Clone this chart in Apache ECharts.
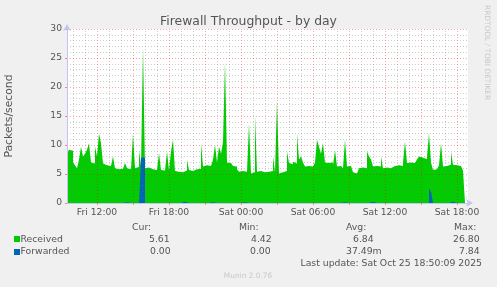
<!DOCTYPE html>
<html><head><meta charset="utf-8">
<script src="https://cdn.jsdelivr.net/npm/echarts@6/dist/echarts.min.js"></script>
<style>html,body{margin:0;padding:0;background:#f0f0f0;}#c{width:497px;height:287px;}</style>
</head><body><div id="c"></div>
<script>
// ---- data (10-minute samples starting Fri Oct 24 2025 09:30) ----
const startHour = 9.5;          // hours since Fri 00:00
const stepHours = 1 / 6;        // 10 minutes
const received = [
 9.0,8.5,9.2,9.0,7.0,6.5,6.0,7.5,9.7,8.0,
 8.5,9.2,10.3,7.0,6.8,9.7,8.0,12.0,10.3,6.8,
 6.5,6.3,6.4,6.2,8.0,6.0,5.8,6.0,5.9,6.1,
 6.9,6.0,5.8,6.0,12.0,6.0,6.2,9.1,6.3,26.8,
 6.0,6.1,5.9,5.8,5.6,5.7,5.8,8.6,5.7,5.6,
 5.8,8.9,5.6,8.9,10.9,5.5,5.4,5.6,5.3,5.5,
 5.6,7.4,5.7,5.5,5.6,5.8,5.5,5.9,10.3,6.3,
 6.5,6.2,6.4,6.3,7.5,10.0,7.0,9.7,8.5,10.5,
 24.3,7.0,6.9,6.9,6.4,6.3,5.8,5.4,5.5,5.3,
 5.4,5.5,13.7,5.1,5.3,15.1,5.4,5.5,5.4,5.3,
 5.6,5.4,5.2,5.5,8.0,5.3,17.7,5.1,5.3,5.2,
 5.5,8.9,6.9,6.7,7.1,6.8,12.0,7.5,8.0,7.0,
 6.3,6.4,6.2,6.3,6.1,7.0,10.9,9.7,8.5,10.3,
 7.0,6.9,6.6,7.0,6.5,9.1,6.3,6.4,6.2,6.0,
 10.9,6.3,6.4,6.2,5.3,5.1,5.2,6.0,6.1,5.9,
 6.0,8.9,8.0,7.5,6.3,6.4,6.2,6.3,8.0,6.0,
 6.1,5.9,6.0,6.3,6.4,6.2,6.5,6.3,6.4,7.0,
 10.6,6.9,7.0,6.8,6.9,7.0,7.5,8.0,7.8,8.0,
 7.6,8.0,12.0,7.0,5.7,5.8,6.0,6.5,10.3,6.3,
 6.4,6.5,6.6,8.9,6.6,6.5,6.7,6.4,6.2,5.61
];
const forwarded = [
 0,0,0,0,0,0,0,0,0,0,
 0,0,0,0,0,0,0,0.3,0,0,
 0,0,0,0,0,0,0,0.15,0,0,
 0.15,0,0,0,0,0.1,0,0,7.84,7.8,
 0,0,0,0,0,0,0,0,0,0,
 0,0,0,0,0,0,0,0,0.2,0.2,
 0,0,0,0,0,0,0,0,0,0,
 0.15,0,0.15,0.15,0,0,0.2,0,0,0,
 0,0,0,0,0,0,0.2,0,0,0.15,
 0,0,0,0,0,0,0,0,0,0,
 0,0,0,0,0,0,0,0,0,0,
 0,0,0,0,0,0,0,0,0,0,
 0,0,0,0,0,0,0,0,0,0,
 0,0,0,0,0,0,0,0,0,0.15,
 0,0,0,0,0,0,0,0,0,0,
 0,0,0,0.2,0.2,0,0,0,0,0,
 0,0,0,0,0,0,0,0,0,0,
 0,0,0,0,0,0,0,0,0,0,
 0,0,2.5,2.0,0,0,0,0,0,0,
 0.2,0,0,0.2,0,0,0.2,0,0,0
];
const seriesNames = ['Received', 'Forwarded'];
const xTickHours = [12, 18, 24, 30, 36, 42];
const xTickLabels = ['Fri 12:00', 'Fri 18:00', 'Sat 00:00', 'Sat 06:00', 'Sat 12:00', 'Sat 18:00'];
const yTicks = [0, 5, 10, 15, 20, 25, 30];
const statHeaders = ['Cur:', 'Min:', 'Avg:', 'Max:'];
const receivedStats = ['5.61', '4.42', '6.84', '26.80'];
const forwardedStats = ['0.00', '0.00', '37.49m', '7.84'];
const lastUpdate = 'Last update: Sat Oct 25 18:50:09 2025';

// ---- build ----
const xMin = startHour, xMax = startHour + 401 / 12;
const toPairs = arr => arr.map((v, i) => [startHour + i * stepHours, v]);
const majorV = [], minorV = [];
for (let h = Math.ceil(xMin); h < xMax; h++) (h % 3 === 0 ? majorV : minorV).push(h);
const vLines = [
  ...minorV.map(h => ({xAxis: h, lineStyle: {color: 'rgba(128,128,128,0.4)', type: [1, 2], width: 1}})),
  ...majorV.map(h => ({xAxis: h, lineStyle: {color: 'rgba(235,0,0,0.35)', type: [1, 2], width: 1}}))
];
const txt = '#555';
const F = 'DejaVu Sans';
const chart = echarts.init(document.getElementById('c'), null, {renderer: 'canvas'});
const graphic = [
  {type: 'text', x: 487, y: 5, rotation: -Math.PI / 2,
   style: {text: 'RRDTOOL / TOBI OETIKER', fill: '#c8c8c8', font: '7.4px ' + F, textAlign: 'left', textVerticalAlign: 'middle'}},
  {type: 'rect', shape: {x: 14, y: 236, width: 6, height: 6}, style: {fill: '#00CC00'}},
  {type: 'rect', shape: {x: 14, y: 249, width: 6, height: 6}, style: {fill: '#0066B3'}},
  {type: 'text', x: 20.5, y: 239.5, style: {text: seriesNames[0], fill: txt, font: '9.3px ' + F, textVerticalAlign: 'middle'}},
  {type: 'text', x: 20.5, y: 252, style: {text: seriesNames[1], fill: txt, font: '9.3px ' + F, textVerticalAlign: 'middle'}},
  {type: 'text', x: 482, y: 263.5, style: {text: lastUpdate, fill: txt, font: '9.3px ' + F, textAlign: 'right', textVerticalAlign: 'middle'}},
  {type: 'text', x: 248, y: 276.5, style: {text: 'Munin 2.0.76', fill: '#c8c8c8', font: '7.4px ' + F, textAlign: 'center', textVerticalAlign: 'middle'}}
];
const hdrX = [132, 239, 346, 454];
const recX = [149, 251, 353, 453];
const fwdX = [150, 250, 346, 459];
statHeaders.forEach((t, i) => graphic.push({type: 'text', x: hdrX[i], y: 228, style: {text: t, fill: txt, font: '9.3px ' + F, textVerticalAlign: 'middle'}}));
receivedStats.forEach((t, i) => graphic.push({type: 'text', x: recX[i], y: 239.5, style: {text: t, fill: txt, font: '9.3px ' + F, textVerticalAlign: 'middle'}}));
forwardedStats.forEach((t, i) => graphic.push({type: 'text', x: fwdX[i], y: 252, style: {text: t, fill: txt, font: '9.3px ' + F, textVerticalAlign: 'middle'}}));

chart.setOption({
  backgroundColor: '#f0f0f0',
  animation: false,
  title: {text: 'Firewall Throughput - by day', left: 'center', top: 11,
    textStyle: {fontFamily: F, fontSize: 12.4, fontWeight: 'normal', color: '#555'}},
  grid: {left: 67, right: 29, top: 29, bottom: 84, show: true, backgroundColor: '#ffffff', borderWidth: 0,
    containLabel: false, outerBoundsMode: 'none'},
  xAxis: {type: 'value', min: xMin, max: xMax, z: 6,
    axisLine: {show: true, lineStyle: {color: '#c4c4f4', width: 1}, symbol: ['none', 'arrow'], symbolSize: [6, 7], symbolOffset: [0, 5]},
    axisTick: {show: true, customValues: majorV, length: 2, lineStyle: {color: '#ee8888'}},
    axisLabel: {customValues: xTickHours, formatter: v => xTickLabels[xTickHours.indexOf(v)],
      fontFamily: F, fontSize: 9.2, color: txt, margin: 5},
    splitLine: {show: false}},
  yAxis: {type: 'value', min: 0, max: 30, interval: 5, z: 6,
    name: 'Packets/second', nameLocation: 'middle', nameRotate: 90, nameGap: 52,
    nameTextStyle: {fontFamily: F, fontSize: 10.8, color: txt},
    axisLine: {show: true, lineStyle: {color: '#c4c4f4', width: 1}, symbol: ['none', 'arrow'], symbolSize: [6, 7], symbolOffset: [0, 5]},
    axisTick: {show: true, length: 2, lineStyle: {color: '#ee8888'}},
    axisLabel: {fontFamily: F, fontSize: 9.2, color: txt, margin: 5,
      formatter: v => yTicks.includes(v) ? String(v) : ''},
    splitLine: {show: true, lineStyle: {color: 'rgba(235,0,0,0.35)', type: [1, 2], width: 1}},
    minorTick: {show: false, splitNumber: 5},
    minorSplitLine: {show: true, lineStyle: {color: 'rgba(128,128,128,0.4)', type: [1, 2], width: 1}}},
  series: [
    {name: seriesNames[0], type: 'line', step: 'start', data: toPairs(received), symbol: 'none',
     lineStyle: {width: 0}, areaStyle: {color: '#00CC00', opacity: 1}, itemStyle: {color: '#00CC00'}, z: 2},
    {name: seriesNames[1], type: 'line', step: 'start', data: toPairs(forwarded), symbol: 'none',
     lineStyle: {width: 0}, areaStyle: {color: '#0066B3', opacity: 1}, itemStyle: {color: '#0066B3'}, z: 3,
     markLine: {silent: true, symbol: 'none', label: {show: false}, animation: false, data: vLines}}
  ],
  graphic: graphic
});
</script></body></html>
